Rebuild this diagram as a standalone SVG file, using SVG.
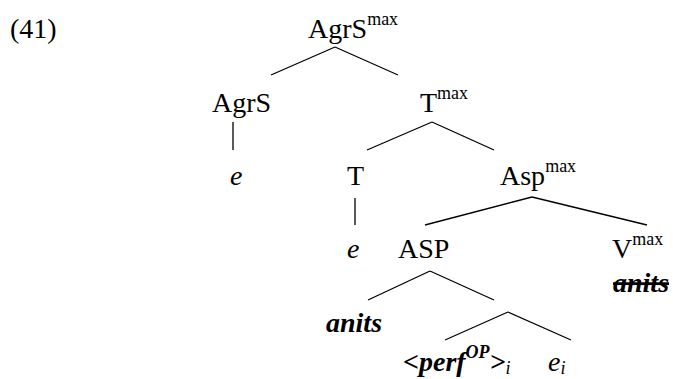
<svg xmlns="http://www.w3.org/2000/svg" width="673" height="379" viewBox="0 0 673 379">
<style>
text{font-family:"Liberation Serif","Times New Roman",serif;fill:#000}
.n{font-size:28px}
.sup{font-size:18px}
.it{font-style:italic}
.bi{font-style:italic;font-weight:bold}
line{stroke:#000;stroke-width:1.3}
</style>
<rect width="673" height="379" fill="#fff"/>
<text class="n" x="10" y="38">(41)</text>
<g id="agrsmax"><text class="n" x="308" y="38">AgrS<tspan class="sup" dy="-13">max</tspan></text></g>
<g id="agrs"><text class="n" x="212" y="112">AgrS</text></g>
<g id="e1"><text class="n it" x="230" y="185">e</text></g>
<g id="tmax"><text class="n" x="420" y="112">T<tspan class="sup" dy="-13">max</tspan></text></g>
<g id="t"><text class="n" x="347" y="185">T</text></g>
<g id="e2"><text class="n it" x="347" y="258">e</text></g>
<g id="aspmax"><text class="n" x="500" y="185">Asp<tspan class="sup" dy="-13">max</tspan></text></g>
<g id="asp"><text class="n" x="398" y="258">ASP</text></g>
<g id="vmax"><text class="n" x="612" y="258">V<tspan class="sup" dy="-13">max</tspan></text></g>
<g id="anits-struck"><text class="n bi" x="613" y="292" text-decoration="line-through">anits</text></g>
<g id="anits"><text class="n bi" x="326" y="332">anits</text></g>
<g id="perf"><text class="n bi" x="403" y="371">&lt;perf<tspan class="sup" dy="-13">OP</tspan><tspan dy="13">&gt;</tspan><tspan class="sup" font-weight="normal" dy="3">i</tspan></text></g>
<g id="ei"><text class="n it" x="548" y="371">e<tspan class="sup" dy="3">i</tspan></text></g>
<g id="connectors">
<line x1="335" y1="47" x2="271" y2="75"/>
<line x1="335" y1="47" x2="398" y2="75"/>
<line x1="233" y1="122" x2="233" y2="150"/>
<line x1="432" y1="122" x2="367" y2="150"/>
<line x1="432" y1="122" x2="494" y2="150"/>
<line x1="355" y1="198" x2="355" y2="225"/>
<line x1="532" y1="197" x2="425" y2="225"/>
<line x1="532" y1="197" x2="647" y2="225"/>
<line x1="430" y1="271" x2="368" y2="300"/>
<line x1="430" y1="271" x2="494" y2="300"/>
<line x1="508" y1="312" x2="445" y2="340"/>
<line x1="508" y1="312" x2="571" y2="340"/>
</g>
</svg>
